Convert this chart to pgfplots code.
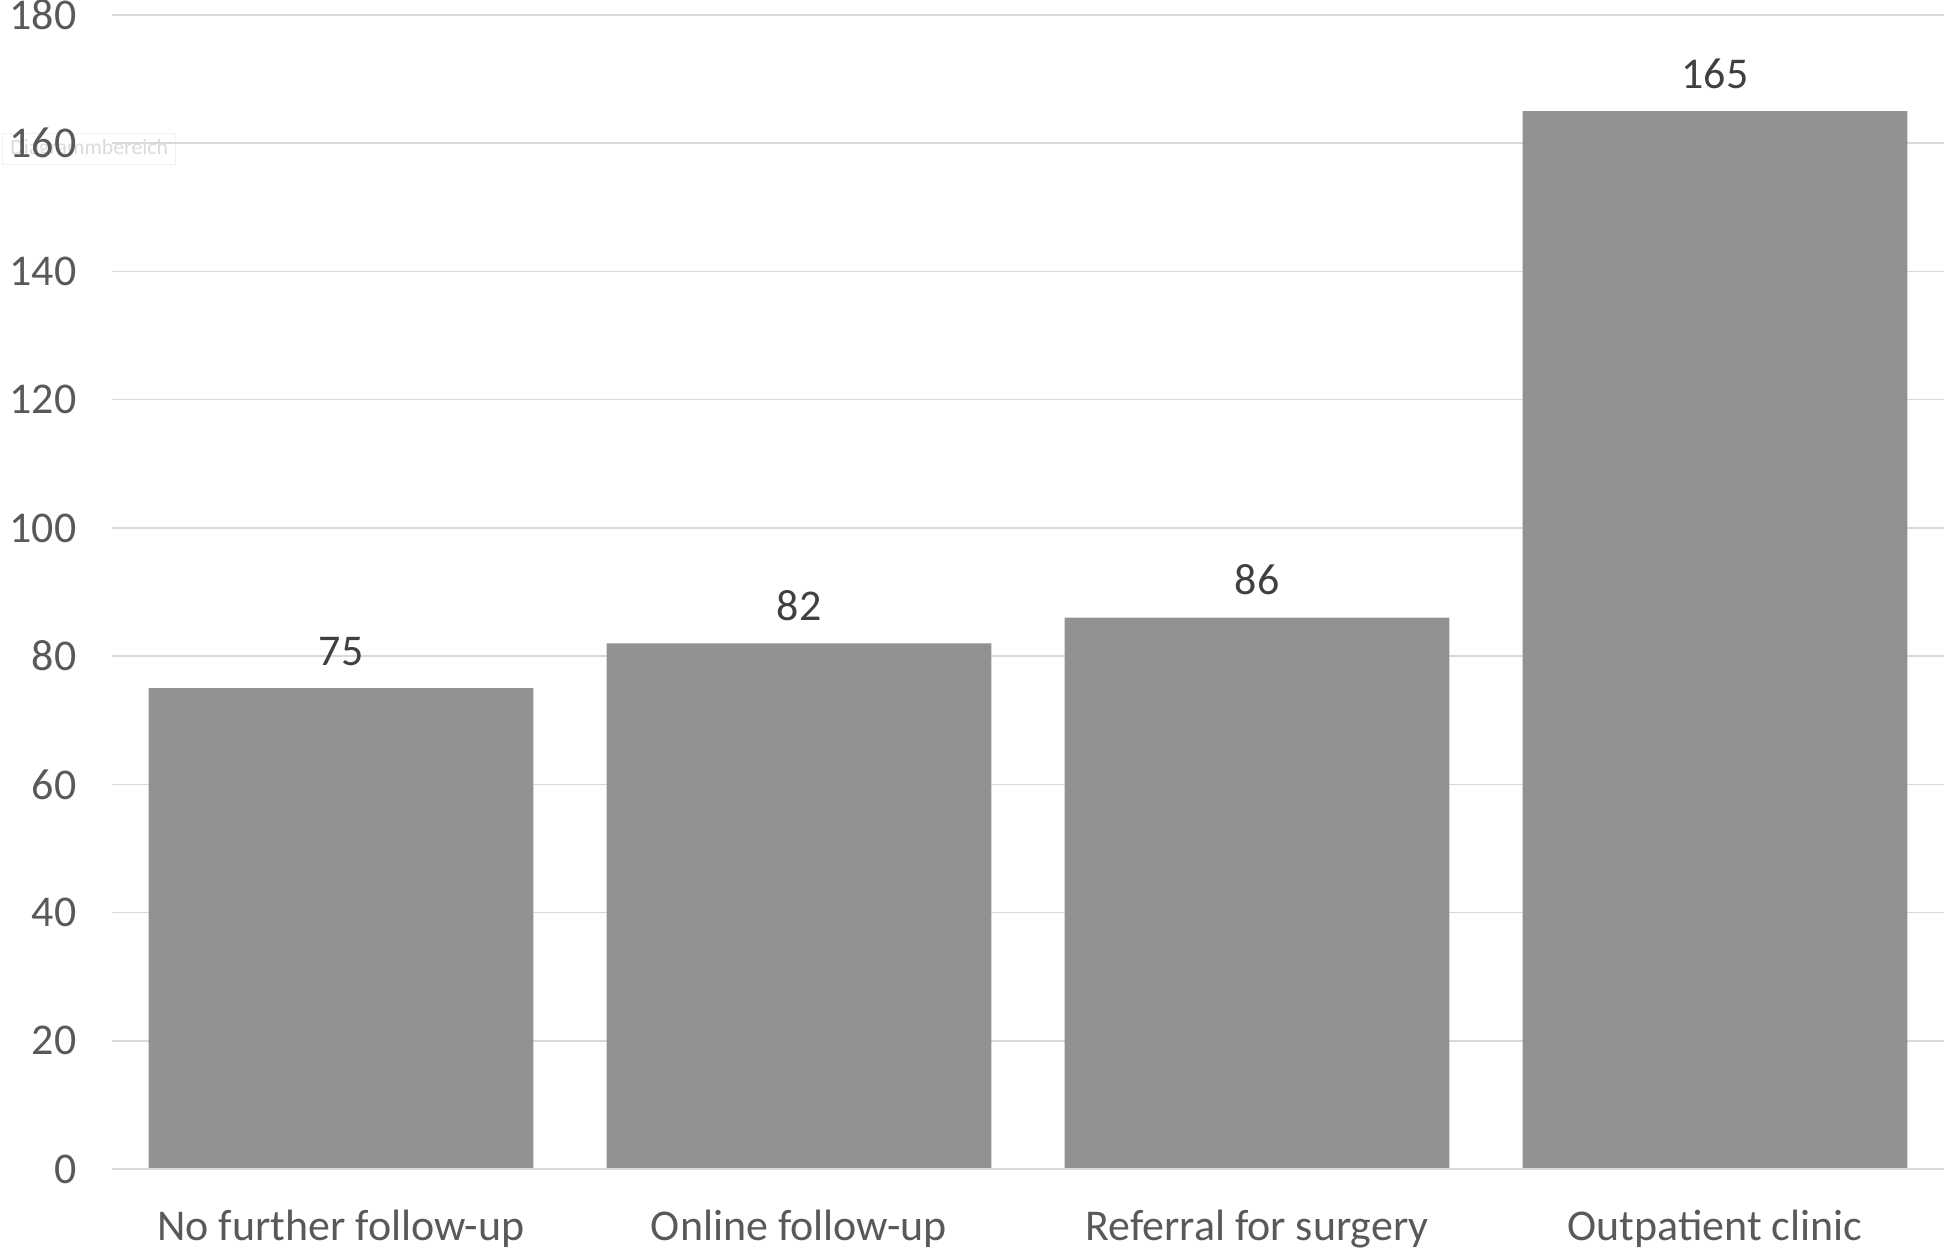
\documentclass[border=0pt]{standalone}
\usepackage{pgfplots}
\pgfplotsset{compat=1.18}
\usepackage{fontspec}
\setmainfont{Carlito}

\definecolor{gridgray}{RGB}{217,217,217}
\definecolor{bargray}{RGB}{146,146,146}
\definecolor{txtgray}{RGB}{89,89,89}
\definecolor{lblgray}{RGB}{64,64,64}

\begin{document}
\begin{tikzpicture}[x=1mm,y=1mm]
% faint Excel tooltip left in the screenshot
\node[draw=gray!12, text=gray!28, font=\fontsize{6.2}{7}\selectfont, anchor=south west,
      minimum width=17.3mm, minimum height=3.1mm, inner sep=0pt] at (-11.0,100.4) {Diagrammbereich};
\begin{axis}[
  at={(0,0)}, anchor=south west,
  scale only axis,
  width=183.2mm, height=115.4mm,
  xmin=-0.5, xmax=3.5,
  ymin=0, ymax=180,
  ytick={0,20,...,180},
  xtick=data,
  xticklabels={No further follow-up, Online follow-up, Referral for surgery, Outpatient clinic},
  axis line style={draw=none},
  axis x line*=bottom,
  axis y line*=left,
  major tick length=0pt,
  ymajorgrids,
  grid style={gridgray, line width=0.15mm},
  ybar, bar width=0.84, bar shift=0pt,
  tick label style={font=\fontsize{12.5}{14}\selectfont, text=txtgray, inner sep=0pt},
  /pgf/number format/assume math mode=true,
  yticklabel style={anchor=east, xshift=-3.5mm},
  xticklabel style={anchor=base, yshift=-7.1mm},
  nodes near coords,
  every node near coord/.append style={font=\fontsize{12.5}{14}\selectfont, text=lblgray, anchor=base, inner sep=0pt, yshift=2.3mm},
]
\addplot[fill=bargray, draw=none] coordinates {(0,75) (1,82) (2,86) (3,165)};
\draw[gridgray, line width=0.15mm] (rel axis cs:0,0) -- (rel axis cs:1,0);
\end{axis}
\pgfresetboundingbox
\path (-11.2,-8) rectangle (183.2,116.9);
\end{tikzpicture}
\end{document}
